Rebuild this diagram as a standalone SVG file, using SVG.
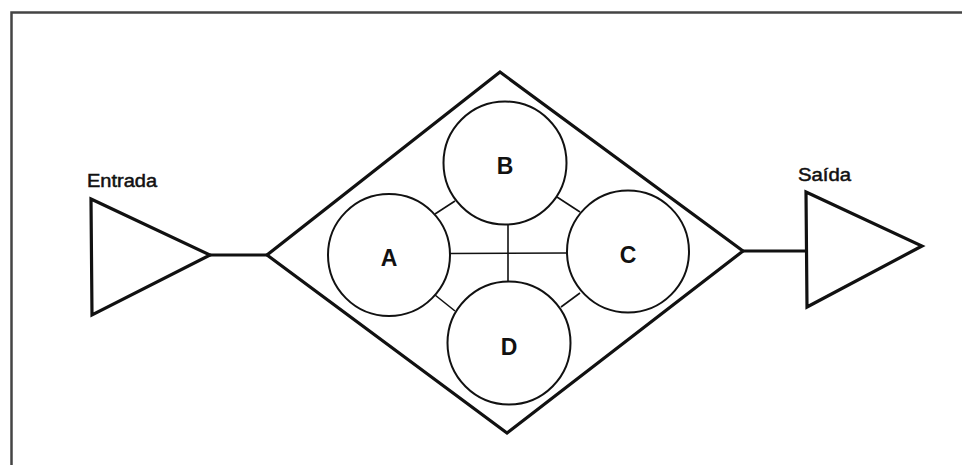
<svg xmlns="http://www.w3.org/2000/svg" width="962" height="465" viewBox="0 0 962 465">
<style>
.frame{fill:none;stroke:#444;stroke-width:2.5}
.heavy{fill:none;stroke:#111;stroke-width:3.2;stroke-linejoin:miter}
.node{fill:#fff;stroke:#111;stroke-width:2}
.link{fill:none;stroke:#111;stroke-width:1.6}
.lbl{font-family:"Liberation Sans",Arial,sans-serif;font-weight:bold;fill:#111;text-anchor:middle}
.cap{font-family:"Liberation Sans",Arial,sans-serif;fill:#111;stroke:#111;stroke-width:0.5}
</style>
<rect width="962" height="465" fill="#fff"/>
<path class="frame" d="M11.5,465 V12.5 H962"/>
<g id="connectors">
<line class="heavy" x1="210" y1="255" x2="267" y2="255"/>
<line class="heavy" x1="743" y1="251" x2="806" y2="251"/>
<line class="link" x1="449" y1="253.5" x2="568" y2="253"/>
<line class="link" x1="508" y1="225" x2="508" y2="281"/>
<line class="link" x1="435" y1="214" x2="455" y2="201"/>
<line class="link" x1="557" y1="197" x2="580" y2="212"/>
<line class="link" x1="435" y1="295" x2="455" y2="311"/>
<line class="link" x1="561" y1="307" x2="580" y2="293"/>
</g>
<g id="entrada">
<polygon class="heavy" points="91,199 210,255 92,315"/>
<text class="cap" x="87" y="187" font-size="18" textLength="70" lengthAdjust="spacingAndGlyphs">Entrada</text>
</g>
<g id="sistema">
<polygon class="heavy" points="500,72 743,251 507,433 267,255"/>
</g>
<g id="saida">
<polygon class="heavy" points="806,192 922,246 807,307"/>
<text class="cap" x="798" y="181" font-size="18" textLength="53" lengthAdjust="spacingAndGlyphs">Saída</text>
</g>
<g id="node-B">
<circle class="node" cx="505" cy="163" r="61.5"/>
<text class="lbl" x="505" y="174" font-size="23">B</text>
</g>
<g id="node-A">
<circle class="node" cx="389" cy="255" r="61"/>
<text class="lbl" x="389" y="266" font-size="23">A</text>
</g>
<g id="node-C">
<circle class="node" cx="628" cy="251.5" r="61"/>
<text class="lbl" x="628" y="263" font-size="23">C</text>
</g>
<g id="node-D">
<circle class="node" cx="509" cy="343" r="61.5"/>
<text class="lbl" x="509" y="355" font-size="23">D</text>
</g>
</svg>
